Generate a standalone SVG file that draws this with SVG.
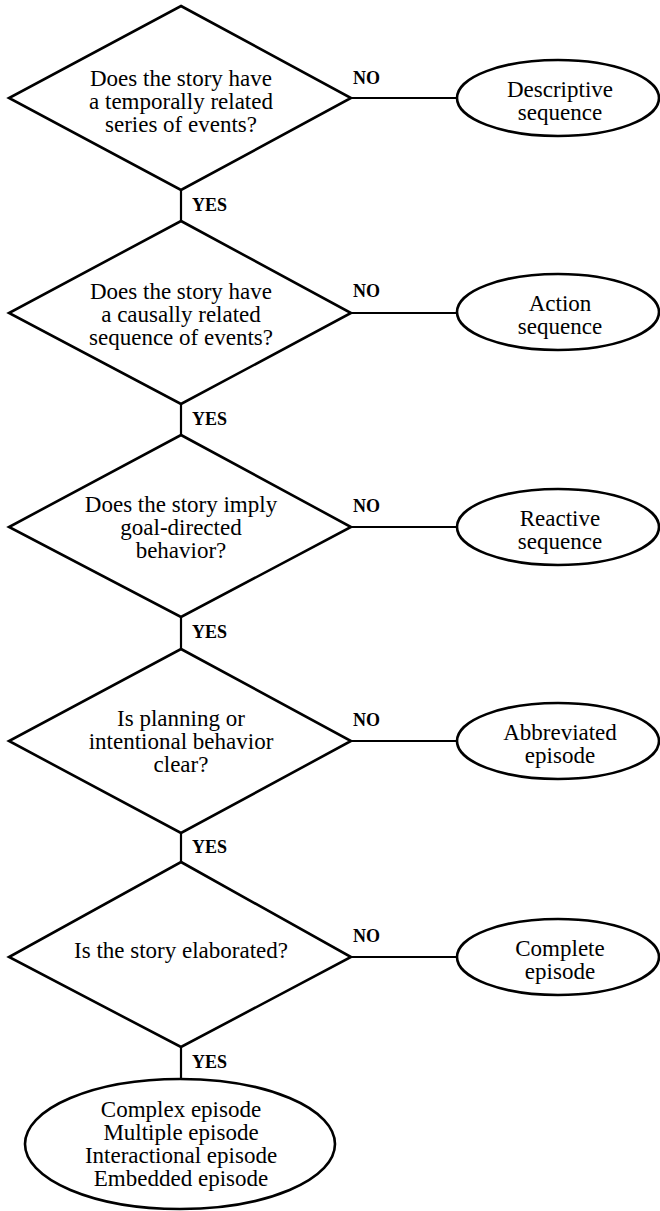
<svg xmlns="http://www.w3.org/2000/svg" width="660" height="1211" viewBox="0 0 660 1211">
  <style>
    .shape { fill: #fff; stroke: #000; stroke-width: 2.6; }
    .wire { fill: none; stroke: #000; stroke-width: 2.2; }
    text { font-family: "Liberation Serif", "Times New Roman", "DejaVu Serif", serif; fill: #000; }
    .q { font-size: 23px; text-anchor: middle; }
    .lbl { font-size: 18px; font-weight: bold; }
  </style>
  <rect width="660" height="1211" fill="#fff"/>

  <!-- connectors: YES runs down the spine, NO runs right to the outcome -->
  <g id="connectors">
    <path class="wire" d="M181 190 V221"/>
    <path class="wire" d="M181 404 V435"/>
    <path class="wire" d="M181 617 V649"/>
    <path class="wire" d="M181 833 V862"/>
    <path class="wire" d="M181 1047 V1079"/>
    <path class="wire" d="M351 98 H457"/>
    <path class="wire" d="M351 313 H457"/>
    <path class="wire" d="M351 527 H457"/>
    <path class="wire" d="M351 741 H457"/>
    <path class="wire" d="M351 957 H457"/>
    <text class="lbl" x="192" y="211">YES</text>
    <text class="lbl" x="192" y="425">YES</text>
    <text class="lbl" x="192" y="638">YES</text>
    <text class="lbl" x="192" y="853">YES</text>
    <text class="lbl" x="192" y="1068">YES</text>
    <text class="lbl" x="353" y="84">NO</text>
    <text class="lbl" x="353" y="297">NO</text>
    <text class="lbl" x="353" y="512">NO</text>
    <text class="lbl" x="353" y="726">NO</text>
    <text class="lbl" x="353" y="942">NO</text>
  </g>

  <!-- decision diamonds -->
  <g id="q1">
    <polygon class="shape" points="181,6 351,98 181,190 9,98"/>
    <text class="q" x="181" y="86">Does the story have</text>
    <text class="q" x="181" y="109">a temporally related</text>
    <text class="q" x="181" y="132">series of events?</text>
  </g>
  <g id="q2">
    <polygon class="shape" points="181,221 351,313 181,404 9,313"/>
    <text class="q" x="181" y="299">Does the story have</text>
    <text class="q" x="181" y="322">a causally related</text>
    <text class="q" x="181" y="345">sequence of events?</text>
  </g>
  <g id="q3">
    <polygon class="shape" points="181,435 351,527 181,617 9,527"/>
    <text class="q" x="181" y="512">Does the story imply</text>
    <text class="q" x="181" y="535">goal-directed</text>
    <text class="q" x="181" y="558">behavior?</text>
  </g>
  <g id="q4">
    <polygon class="shape" points="181,649 351,741 181,833 9,741"/>
    <text class="q" x="181" y="726">Is planning or</text>
    <text class="q" x="181" y="749">intentional behavior</text>
    <text class="q" x="181" y="772">clear?</text>
  </g>
  <g id="q5">
    <polygon class="shape" points="181,862 351,957 181,1047 9,957"/>
    <text class="q" x="181" y="958">Is the story elaborated?</text>
  </g>

  <!-- outcomes -->
  <g id="descriptive">
    <ellipse class="shape" cx="558" cy="98" rx="101" ry="38"/>
    <text class="q" x="560" y="97">Descriptive</text>
    <text class="q" x="560" y="120">sequence</text>
  </g>
  <g id="action">
    <ellipse class="shape" cx="558" cy="312" rx="101" ry="38"/>
    <text class="q" x="560" y="311">Action</text>
    <text class="q" x="560" y="334">sequence</text>
  </g>
  <g id="reactive">
    <ellipse class="shape" cx="558" cy="527" rx="101" ry="38"/>
    <text class="q" x="560" y="526">Reactive</text>
    <text class="q" x="560" y="549">sequence</text>
  </g>
  <g id="abbreviated">
    <ellipse class="shape" cx="558" cy="741" rx="101" ry="38"/>
    <text class="q" x="560" y="740">Abbreviated</text>
    <text class="q" x="560" y="763">episode</text>
  </g>
  <g id="complete">
    <ellipse class="shape" cx="558" cy="957" rx="101" ry="38"/>
    <text class="q" x="560" y="956">Complete</text>
    <text class="q" x="560" y="979">episode</text>
  </g>
  <g id="elaborated">
    <ellipse class="shape" cx="180" cy="1144" rx="155" ry="65"/>
    <text class="q" x="181" y="1117">Complex episode</text>
    <text class="q" x="181" y="1140">Multiple episode</text>
    <text class="q" x="181" y="1163">Interactional episode</text>
    <text class="q" x="181" y="1186">Embedded episode</text>
  </g>
</svg>
